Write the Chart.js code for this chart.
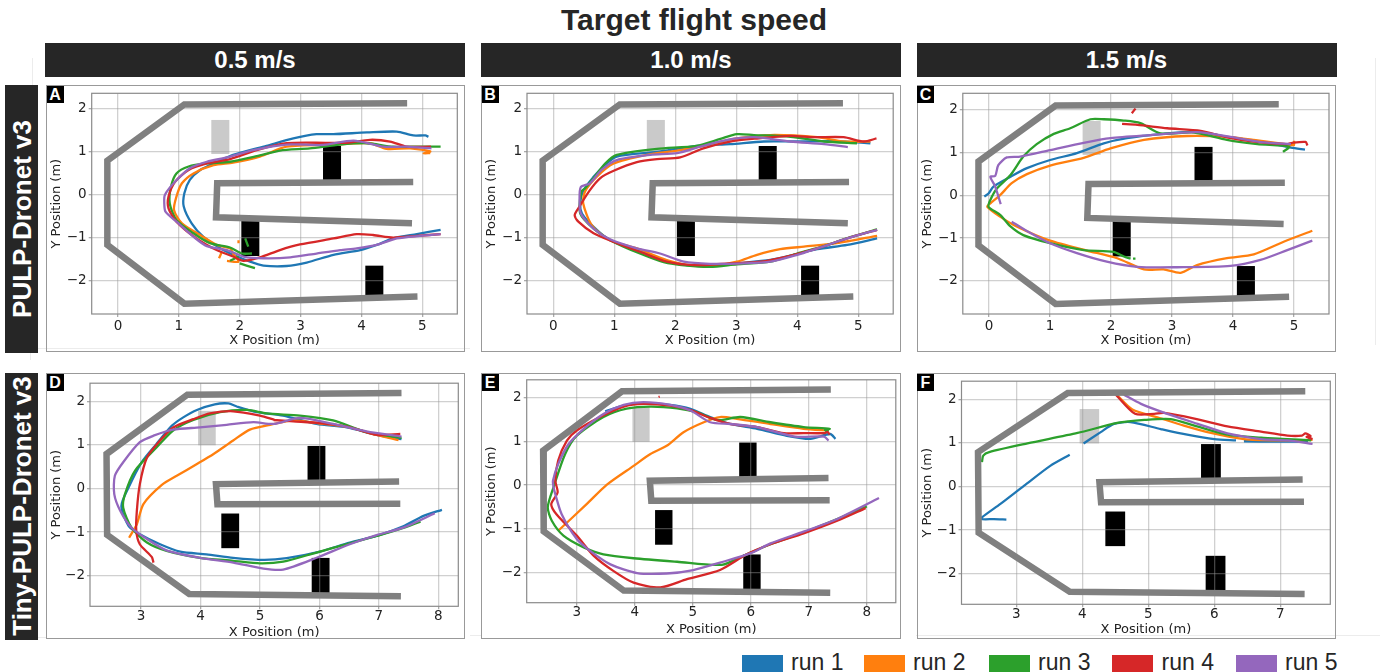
<!DOCTYPE html>
<html>
<head>
<meta charset="utf-8">
<title>Target flight speed</title>
<script src="https://cdn.jsdelivr.net/npm/chart.js@4"></script>
<style>
  html, body { margin: 0; padding: 0; background: #fff; overflow: hidden; }
  body { width: 1380px; height: 672px; position: relative; font-family: "Liberation Sans", sans-serif; }
  .abs { position: absolute; }
  #title { left: 394px; width: 600px; top: 3px; text-align: center; font: bold 30px "Liberation Sans"; color: #262626; }
  .head { top: 43px; height: 33.5px; width: 420px; background: #262626; color: #fff; text-align: center; font: bold 24px/33px "Liberation Sans"; }
  .side { left: 5px; width: 33px; background: #262626; }
  .side span { position: absolute; left: 50%; top: 50%; transform: translate(-50%, -50%) rotate(-90deg); white-space: nowrap; color: #fff; font: bold 26px "Liberation Sans"; }
  .panel { border: 1px solid #999; box-sizing: border-box; }
  .letter { width: 17px; height: 17px; background: #000; color: #fff; text-align: center; font: bold 16px/17px "Liberation Sans"; }
  .swatch { top: 655px; height: 17px; width: 41px; }
  .runtext { top: 649px; font: 23px/26px "Liberation Sans"; color: #262626; white-space: nowrap; }
  .faint { background: #ececec; }
</style>
</head>
<body>
<div class="abs" id="title">Target flight speed</div>
<div id="root"></div>
<script>
const speedLabels = ['0.5 m/s', '1.0 m/s', '1.5 m/s'];
const modelLabels = ['PULP-Dronet v3', 'Tiny-PULP-Dronet v3'];
const panelLetters = ['A', 'B', 'C', 'D', 'E', 'F'];
const runNames = ['run 1', 'run 2', 'run 3', 'run 4', 'run 5'];
const runColors = ['#1f77b4', '#ff7f0e', '#2ca02c', '#d62728', '#9467bd'];

const topTicksX = [0, 1, 2, 3, 4, 5];
const dTicksX = [3, 4, 5, 6, 7, 8];
const fTicksX = [3, 4, 5, 6, 7];
const ticksY = [-2, -1, 0, 1, 2];

// walls and obstacles, metres. top row and bottom row have different rooms
const topWallOuter = [[4.75, 2.12], [1.09, 2.09], [-0.175, 0.785], [-0.175, -1.17], [1.09, -2.535], [4.92, -2.37]];
const topWallInner = [[4.85, 0.29], [1.63, 0.26], [1.61, -0.53], [4.83, -0.67]];
const topGate = [[1.533, 0.94, 1.829, 1.73]];
const topBlocks = [[3.368, 0.3, 3.664, 1.126], [2.026, -1.428, 2.322, -0.6], [4.063, -2.4, 4.359, -1.652]];

const botWallOuter = [[7.38, 2.19], [3.78, 2.15], [2.42, 0.79], [2.43, -1.064], [3.81, -2.42], [7.37, -2.47]];
const botWallInner = [[7.34, 0.16], [4.26, 0.10], [4.285, -0.36], [7.36, -0.35]];
const botGate = [[3.96, 0.99, 4.256, 1.78]];
const botBlocks = [[5.80, 0.15, 6.10, 0.975], [4.35, -1.37, 4.65, -0.575], [5.87, -2.4, 6.17, -1.593]];

// panel A
const aRun1 = [[5.10,1.34],[5.05,1.37],[4.85,1.37],[4.58,1.46],[4.09,1.44],[3.54,1.40],[3.26,1.40],[2.88,1.30],[2.44,1.13],[1.89,0.92],[1.57,0.72],[1.35,0.57],[1.18,0.34],[1.09,0.03],[1.08,-0.28],[1.21,-0.67],[1.40,-0.98],[1.68,-1.25],[1.89,-1.40],[2.17,-1.56],[2.39,-1.65],[2.77,-1.66],[3.10,-1.58],[3.54,-1.40],[3.98,-1.29],[4.25,-1.17],[4.52,-1.02],[4.91,-0.92],[5.30,-0.82]];
const aRun2 = [[5.13,0.96],[5.02,0.96],[5.13,1.0],[4.80,1.07],[4.41,1.06],[4.14,1.19],[3.54,1.16],[2.77,1.11],[2.33,0.88],[1.89,0.74],[1.57,0.68],[1.24,0.49],[1.05,0.26],[0.96,-0.05],[0.92,-0.36],[1.05,-0.67],[1.35,-0.94],[1.62,-1.17],[1.84,-1.25],[1.89,-1.37],[1.98,-1.56],[1.79,-1.54],null,[1.66,-1.48],[1.70,-1.35],null,[1.98,-1.13],[1.98,-1.06]];
const aRun3 = [[5.30,1.11],[4.96,1.11],[4.52,1.11],[4.09,1.19],[3.65,1.16],[3.15,1.07],[2.66,1.02],[2.28,0.89],[1.84,0.76],[1.46,0.72],[1.16,0.65],[0.96,0.49],[0.87,0.18],[0.85,-0.21],[0.96,-0.59],[1.24,-0.90],[1.51,-1.13],[1.84,-1.23],[2.04,-1.37],[2.20,-1.37],null,[1.84,-1.54],[1.98,-1.44],null,[2.00,-1.60],[2.25,-1.71],null,[2.09,-1.02],[2.14,-1.21]];
const aRun4 = [[5.14,1.11],[4.74,1.11],[4.47,1.23],[4.14,1.27],[3.76,1.20],[3.43,1.20],[2.77,1.19],[2.28,1.03],[1.84,0.82],[1.46,0.72],[1.16,0.57],[0.94,0.30],[0.83,-0.05],[0.83,-0.32],[0.96,-0.63],[1.29,-1.02],[1.62,-1.29],[1.89,-1.44],[2.06,-1.54],[2.33,-1.46],[2.66,-1.29],[2.99,-1.16],[3.54,-1.02],[3.92,-0.92],[4.19,-0.94],[4.52,-1.0],[4.91,-0.96],[5.30,-0.92]];
const aRun5 = [[5.15,1.07],[4.74,1.11],[4.36,1.11],[3.87,1.25],[3.37,1.15],[2.77,1.16],[2.22,1.03],[1.79,0.86],[1.46,0.76],[1.18,0.61],[0.94,0.30],[0.77,-0.01],[0.76,-0.20],[0.78,-0.40],[0.96,-0.63],[1.24,-0.98],[1.46,-1.20],[1.79,-1.29],[2.06,-1.44],[2.39,-1.48],[2.83,-1.46],[3.26,-1.37],[3.65,-1.29],[3.92,-1.25],[4.25,-1.17],[4.58,-1.02],[4.96,-0.96],[5.30,-0.92]];

// panel B
const bRun1 = [[5.20,1.19],[4.65,1.24],[4.00,1.23],[3.45,1.23],[2.90,1.17],[2.35,1.13],[1.70,0.99],[1.04,0.88],[0.82,0.65],[0.66,0.41],[0.49,0.09],[0.44,-0.21],[0.47,-0.44],[0.66,-0.75],[0.93,-1.06],[1.37,-1.29],[1.81,-1.52],[2.19,-1.64],[2.57,-1.66],[3.01,-1.60],[3.56,-1.52],[3.94,-1.40],[4.33,-1.27],[4.82,-1.17],[5.31,-1.02]];
const bRun2 = [[5.20,1.23],[4.76,1.23],[4.33,1.33],[3.56,1.38],[3.01,1.30],[2.46,1.13],[2.03,1.02],[1.53,0.92],[0.99,0.72],[0.71,0.41],[0.52,0.07],[0.49,-0.21],[0.63,-0.71],[0.93,-1.06],[1.37,-1.25],[1.86,-1.52],[2.25,-1.64],[2.68,-1.64],[3.01,-1.56],[3.34,-1.40],[3.72,-1.27],[4.11,-1.21],[4.65,-1.13],[5.31,-0.96]];
const bRun3 = [[4.98,1.19],[4.44,1.23],[3.89,1.34],[3.29,1.38],[3.01,1.40],[2.74,1.29],[2.35,1.13],[1.70,1.06],[1.04,0.92],[0.85,0.72],[0.66,0.38],[0.52,0.14],[0.46,0.07],[0.44,-0.44],[0.66,-0.79],[0.99,-1.10],[1.42,-1.37],[1.81,-1.57],[2.19,-1.65],[2.57,-1.68],[3.01,-1.62],[3.56,-1.56],[4.00,-1.37],[4.44,-1.20],[4.87,-0.99],[5.31,-0.81]];
const bRun4 = [[5.30,1.30],[5.09,1.23],[4.76,1.33],[4.27,1.33],[3.89,1.36],[3.34,1.30],[2.90,1.23],[2.46,1.07],[2.08,0.86],[1.70,0.82],[1.37,0.75],[0.99,0.55],[0.77,0.38],[0.60,0.10],[0.41,-0.32],[0.35,-0.48],[0.41,-0.63],[0.66,-0.90],[0.99,-1.10],[1.42,-1.33],[1.86,-1.56],[2.30,-1.64],[2.90,-1.60],[3.40,-1.56],[3.83,-1.44],[4.33,-1.25],[4.82,-1.02],[5.31,-0.82]];
const bRun5 = [[4.83,1.10],[4.44,1.17],[3.89,1.23],[3.29,1.33],[2.85,1.27],[2.41,1.11],[2.03,0.96],[1.59,0.92],[1.04,0.80],[0.79,0.57],[0.60,0.26],[0.45,0.17],[0.43,-0.13],[0.45,-0.44],[0.66,-0.79],[0.93,-1.04],[1.37,-1.25],[1.75,-1.37],[2.14,-1.56],[2.57,-1.61],[3.12,-1.60],[3.56,-1.56],[4.00,-1.40],[4.33,-1.25],[4.82,-1.02],[5.31,-0.82]];

// panel C
const cRun1 = [[5.18,1.06],[4.95,1.11],[4.45,1.25],[3.90,1.36],[3.41,1.48],[2.86,1.43],[2.26,1.33],[1.88,1.21],[1.44,0.98],[1.0,0.82],[0.62,0.63],[0.35,0.43],[0.07,0.20],[-0.01,0.04],[-0.08,-0.03]];
const cRun2 = [[5.0,1.27],[5.0,1.17],[4.95,1.17],[4.34,1.29],[3.90,1.36],[3.25,1.38],[2.54,1.29],[1.99,1.09],[1.55,0.87],[1.0,0.69],[0.62,0.49],[0.37,0.28],[0.18,0.0],[0.02,-0.19],[-0.03,-0.27],[0.18,-0.50],[0.45,-0.73],[1.0,-1.06],[1.60,-1.29],[2.10,-1.47],[2.54,-1.73],[2.86,-1.73],[3.14,-1.81],[3.41,-1.63],[3.90,-1.47],[4.34,-1.38],[4.84,-1.08],[5.30,-0.83]];
const cRun3 = [[4.82,1.01],[4.92,1.13],[4.40,1.19],[3.90,1.29],[3.36,1.46],[2.81,1.44],[2.48,1.68],[2.21,1.74],[1.88,1.77],[1.66,1.77],[1.33,1.56],[1.06,1.43],[0.78,1.19],[0.56,0.90],[0.35,0.47],[0.13,0.16],[0.02,-0.11],[-0.01,-0.27],[0.18,-0.46],[0.35,-0.73],[0.56,-0.93],[1.0,-1.12],[1.55,-1.28],[2.04,-1.32],[2.21,-1.43],[2.32,-1.48],null,[2.36,-1.48],[2.40,-1.48]];
const cRun4 = [[2.34,1.91],[2.40,2.02],null,[2.18,1.66],[2.43,1.64],[2.92,1.56],[3.47,1.50],[3.90,1.35],[4.34,1.25],[4.89,1.19],[4.97,1.22],[5.19,1.24],[5.22,1.16]];
const cRun5 = [[0.19,-0.21],[0.10,0.20],[0.02,0.43],[0.10,0.45],[0.15,0.70],[0.29,0.88],[0.51,0.90],[1.0,1.05],[1.55,1.22],[1.99,1.33],[2.65,1.40],[3.41,1.47],[3.96,1.36],[4.51,1.23],[4.95,1.19],null,[0.37,-0.62],[0.59,-0.81],[1.0,-1.12],[1.44,-1.35],[1.93,-1.55],[2.43,-1.67],[3.08,-1.68],[3.96,-1.65],[4.45,-1.51],[4.89,-1.28],[5.30,-1.06]];

// panel D
const dRun1 = [[7.38,1.13],[6.96,1.23],[6.46,1.40],[5.95,1.48],[5.39,1.67],[4.95,1.75],[4.61,1.88],[4.47,1.95],[4.24,1.93],[3.94,1.80],[3.71,1.63],[3.52,1.44],[3.26,1.02],[3.01,0.60],[2.79,0.02],[2.67,-0.40],[2.79,-0.86],[2.98,-1.05],[3.32,-1.28],[3.66,-1.45],[4.10,-1.51],[4.55,-1.59],[5.06,-1.64],[5.45,-1.60],[6.01,-1.45],[6.51,-1.24],[6.96,-1.09],[7.41,-0.87],[7.75,-0.63],[8.06,-0.49]];
const dRun2 = [[7.33,1.11],[6.96,1.23],[6.51,1.40],[6.01,1.49],[5.56,1.56],[5.17,1.46],[4.83,1.35],[4.55,1.10],[4.22,0.79],[3.94,0.56],[3.60,0.29],[3.35,0.08],[3.04,-0.36],[2.93,-0.82],[2.80,-1.13]];
const dRun3 = [[7.38,1.16],[6.79,1.29],[6.23,1.56],[5.67,1.67],[5.11,1.72],[4.78,1.80],[4.33,1.75],[3.88,1.57],[3.54,1.33],[3.26,0.94],[2.90,0.41],[2.73,-0.13],[2.70,-0.44],[2.84,-0.90],[3.10,-1.24],[3.43,-1.43],[3.99,-1.59],[4.55,-1.66],[5.0,-1.72],[5.39,-1.68],[5.95,-1.47],[6.51,-1.26],[6.96,-1.09],[7.36,-0.93],[7.70,-0.76]];
const dRun4 = [[7.36,1.25],[6.96,1.23],[6.46,1.42],[6.01,1.50],[5.56,1.54],[5.23,1.57],null,[5.25,1.57],[5.0,1.67],[4.55,1.77],[4.16,1.72],[3.88,1.59],[3.54,1.40],[3.32,1.10],[3.10,0.71],[2.98,0.10],[2.93,-0.51],[2.92,-0.97],[2.98,-1.28],[3.18,-1.57],[3.21,-1.70]];
const dRun5 = [[7.38,1.19],[6.79,1.31],[6.23,1.48],[5.67,1.62],[5.23,1.48],[4.89,1.52],[4.44,1.46],[3.99,1.40],[3.54,1.35],[3.21,1.21],[2.98,1.06],[2.70,0.60],[2.56,0.29],[2.55,-0.13],[2.65,-0.51],[2.84,-0.90],[3.10,-1.16],[3.43,-1.42],[3.99,-1.59],[4.55,-1.70],[5.06,-1.84],[5.39,-1.86],[5.95,-1.59],[6.51,-1.28],[6.96,-1.07],[7.41,-0.90],[7.94,-0.57]];

// panel E
const eRun1 = [[7.46,1.06],[7.37,1.17],[7.03,1.06],[6.62,1.13],[6.11,1.29],[5.65,1.40],[5.30,1.56],[4.96,1.75],[4.61,1.84],[4.15,1.88],[3.81,1.82],[3.49,1.69]];
const eRun2 = [[7.34,1.25],[6.91,1.29],[6.34,1.40],[5.76,1.52],[5.47,1.56],[5.19,1.44],[4.84,1.21],[4.55,0.90],[4.27,0.71],[3.98,0.44],[3.52,0.01],[3.17,-0.44],[2.68,-1.05]];
const eRun3 = [[7.34,1.22],[7.28,1.26],[7.36,1.29],[6.91,1.33],[6.34,1.44],[5.82,1.56],[5.42,1.49],[5.07,1.67],[4.73,1.76],[4.27,1.80],[3.86,1.75],[3.46,1.56],[3.0,1.13],[2.80,0.71],[2.60,-0.05],[2.50,-0.51],[2.57,-0.82],[2.77,-1.16],[3.12,-1.43],[3.46,-1.59],[3.98,-1.68],[4.73,-1.76],[5.50,-1.83],[5.93,-1.59],[6.34,-1.36],[6.91,-1.09],[7.49,-0.78],[8.0,-0.49]];
const eRun4 = [[4.41,2.02],[4.43,2.03],null,[7.36,1.16],[7.32,1.22],[7.28,1.19],[6.91,1.19],[6.57,1.19],[6.11,1.33],[5.65,1.40],[5.30,1.54],[4.96,1.72],[4.61,1.82],[4.15,1.86],[3.81,1.80],[3.40,1.56],[3.0,1.25],[2.83,1.02],[2.68,0.56],[2.63,0.10],[2.67,-0.17],[2.56,-0.44],[2.65,-0.67],[3.0,-1.16],[3.29,-1.62],[3.63,-1.97],[3.98,-2.24],[4.44,-2.35],[4.90,-2.16],[5.47,-1.95],[5.93,-1.59],[6.34,-1.36],[6.91,-1.11],[7.49,-0.82],[7.98,-0.53]];
const eRun5 = [[7.34,1.02],[7.26,1.11],[6.77,1.11],[6.11,1.33],[5.65,1.40],[5.30,1.44],[4.96,1.71],[4.61,1.84],[4.15,1.90],[3.81,1.84],[3.46,1.63],[3.12,1.29],[2.86,0.94],[2.68,0.48],[2.59,0.10],[2.60,-0.05],[2.63,-0.21],[2.74,-0.67],[3.0,-1.24],[3.23,-1.51],[3.58,-1.82],[4.04,-2.02],[4.55,-2.03],[5.01,-1.95],[5.47,-1.78],[5.99,-1.57],[6.34,-1.34],[6.91,-1.07],[7.49,-0.78],[8.21,-0.30]];

// panel F
const fRun1 = [[2.85,-0.76],[2.66,-0.75],[2.48,-0.75],[2.48,-0.71],[2.76,-0.40],[3.12,0.02],[3.52,0.48],[3.81,0.73],null,[4.02,0.99],[4.28,1.25],[4.48,1.44],[4.73,1.48],[5.19,1.32],[5.59,1.19],[6.0,1.09],[6.33,1.06],null,[6.45,1.04],[6.96,1.03],[7.42,1.03]];
const fRun2 = [[4.52,2.11],[4.76,1.77],[5.14,1.59],[5.54,1.40],[5.95,1.23],[6.45,1.09],[6.96,1.06],[7.49,1.07]];
const fRun3 = [[2.48,0.56],[2.50,0.71],[2.59,0.79],[3.17,0.99],[3.93,1.23],[4.53,1.46],[4.94,1.53],[5.34,1.55],[5.70,1.40],[6.20,1.19],[6.71,1.12],[7.11,1.09],[7.47,1.06]];
const fRun4 = [[4.51,2.11],[4.80,1.67],[5.09,1.67],[5.24,1.69],[5.70,1.56],[6.20,1.38],[6.71,1.26],[7.11,1.17],[7.33,1.17],[7.38,1.22],[7.46,1.16],[7.40,1.14],[7.49,1.09]];
const fRun5 = [[4.63,2.11],[4.89,1.90],[5.29,1.67],[5.75,1.44],[6.20,1.22],[6.71,1.09],[7.11,1.06],[7.49,0.98]];

// page layout: box is the outer frame, plot the axes rectangle, range the axis limits
const panels = [
  { box: [46, 85, 465, 352], plot: [91.7, 93.3, 457.3, 314], xr: [-0.432, 5.574], yr: [-2.774, 2.349], ticksX: topTicksX, room: 'top', tickPad: 1, titlePad: 4, runs: [aRun1, aRun2, aRun3, aRun4, aRun5] },
  { box: [481, 85, 900.5, 352], plot: [527, 93.3, 892.7, 314], xr: [-0.432, 5.574], yr: [-2.774, 2.349], ticksX: topTicksX, room: 'top', tickPad: 1, titlePad: 4, runs: [bRun1, bRun2, bRun3, bRun4, bRun5] },
  { box: [916.5, 85, 1336, 352], plot: [962.3, 93.3, 1328, 314], xr: [-0.432, 5.574], yr: [-2.77, 2.375], ticksX: topTicksX, room: 'top', tickPad: 1, titlePad: 4, runs: [cRun1, cRun2, cRun3, cRun4, cRun5] },
  { box: [46, 372.5, 465, 639], plot: [90, 382.7, 458.3, 605.3], xr: [2.142, 8.335], yr: [-2.703, 2.414], ticksX: dTicksX, room: 'bot', tickPad: -1, titlePad: 0, runs: [dRun1, dRun2, dRun3, dRun4, dRun5] },
  { box: [481, 372.5, 900.5, 639], plot: [526.7, 379.3, 895.3, 601.7], xr: [2.137, 8.5], yr: [-2.70, 2.414], ticksX: dTicksX, room: 'bot', tickPad: -1, titlePad: 3, runs: [eRun1, eRun2, eRun3, eRun4, eRun5] },
  { box: [916.5, 372.5, 1336, 639], plot: [961, 380.7, 1329.3, 603.3], xr: [2.17, 7.759], yr: [-2.707, 2.42], ticksX: fTicksX, room: 'bot', tickPad: -1, titlePad: 2.5, runs: [fRun1, fRun2, fRun3, fRun4, fRun5] }
];
const rooms = {
  top: { walls: [topWallOuter, topWallInner], gates: topGate, blocks: topBlocks },
  bot: { walls: [botWallOuter, botWallInner], gates: botGate, blocks: botBlocks }
};
const headLefts = [45, 481, 916.5];
const sideBoxes = [[85, 267.5], [372.5, 267]];
const legendSwatchLefts = [742.3, 864.3, 989.3, 1112.3, 1236];
const legendTextLefts = [791, 913, 1038, 1161.5, 1285];
// the very light scan lines behind the figure: left, top, width, height
const faintLines = [[32, 58, 1, 290], [30, 350, 1, 10], [38, 348, 432, 1], [38, 637, 8, 1], [470, 635, 12, 1], [916, 635, 464, 1], [1375, 58, 1, 287]];

var root = document.getElementById('root');
function addDiv(cls, css, text) {
  var d = document.createElement('div');
  d.className = 'abs ' + cls;
  Object.assign(d.style, css);
  if (text) d.textContent = text;
  root.appendChild(d);
  return d;
}

faintLines.forEach(function (l) {
  addDiv('faint', { left: l[0] + 'px', top: l[1] + 'px', width: l[2] + 'px', height: l[3] + 'px' });
});
speedLabels.forEach(function (s, i) { addDiv('head', { left: headLefts[i] + 'px' }, s); });
modelLabels.forEach(function (m, i) {
  var d = addDiv('side', { top: sideBoxes[i][0] + 'px', height: sideBoxes[i][1] + 'px' });
  var sp = document.createElement('span');
  sp.textContent = m;
  d.appendChild(sp);
});
runNames.forEach(function (r, i) {
  addDiv('swatch', { left: legendSwatchLefts[i] + 'px', background: runColors[i] });
  addDiv('runtext', { left: legendTextLefts[i] + 'px' }, r);
});

function toPoints(list) {
  return list.map(function (p) { return p ? { x: p[0], y: p[1] } : { x: NaN, y: NaN }; });
}

// gates and blocks go under the grid, frame goes over it
var roomPlugin = {
  id: 'roomPlugin',
  beforeDraw: function (chart, args, opts) {
    var c = chart.ctx, xs = chart.scales.x, ys = chart.scales.y;
    function rects(list, color) {
      c.fillStyle = color;
      list.forEach(function (r) {
        var x0 = xs.getPixelForValue(r[0]), x1 = xs.getPixelForValue(r[2]);
        var y0 = ys.getPixelForValue(r[3]), y1 = ys.getPixelForValue(r[1]);
        c.fillRect(x0, y0, x1 - x0, y1 - y0);
      });
    }
    rects(opts.gates, '#cacaca');
    rects(opts.blocks, '#000');
  },
  afterDatasetsDraw: function (chart) {
    var a = chart.chartArea, c = chart.ctx;
    c.save();
    c.strokeStyle = '#8a8a8a';
    c.lineWidth = 1.2;
    c.strokeRect(a.left, a.top, a.right - a.left, a.bottom - a.top);
    c.restore();
  }
};

panels.forEach(function (p, idx) {
  var w = p.box[2] - p.box[0], h = p.box[3] - p.box[1];
  addDiv('panel', { left: p.box[0] + 'px', top: p.box[1] + 'px', width: w + 'px', height: h + 'px' });
  var cv = document.createElement('canvas');
  cv.className = 'abs';
  cv.width = Math.round(w);
  cv.height = Math.round(h);
  cv.style.left = p.box[0] + 'px';
  cv.style.top = p.box[1] + 'px';
  root.appendChild(cv);
  addDiv('letter', { left: (p.box[0] + 0.5) + 'px', top: (p.box[1] + 1) + 'px' }, panelLetters[idx]);

  var room = rooms[p.room];
  var datasets = p.runs.map(function (run, i) {
    return { label: runNames[i], data: toPoints(run), borderColor: runColors[i], borderWidth: 2.3, tension: 0.25, order: 5 - i, showLine: true, pointRadius: 0, spanGaps: false };
  });
  room.walls.forEach(function (wall) {
    datasets.push({ label: 'wall', data: toPoints(wall), borderColor: '#808080', borderWidth: 6.5, tension: 0, order: 0, showLine: true, pointRadius: 0, borderJoinStyle: 'miter', borderCapStyle: 'butt' });
  });

  new Chart(cv, {
    type: 'scatter',
    data: { datasets: datasets },
    plugins: [roomPlugin],
    options: {
      responsive: false,
      animation: false,
      devicePixelRatio: 1,
      layout: { padding: { top: p.plot[1] - p.box[1], right: p.box[2] - p.plot[2], left: 0, bottom: 0 } },
      plugins: {
        legend: { display: false },
        tooltip: { enabled: false },
        roomPlugin: { gates: room.gates, blocks: room.blocks }
      },
      scales: {
        x: {
          type: 'linear',
          min: p.xr[0], max: p.xr[1],
          afterBuildTicks: function (s) { s.ticks = p.ticksX.map(function (v) { return { value: v }; }); },
          afterFit: function (s) { s.height = p.box[3] - p.plot[3]; s.paddingLeft = 0; s.paddingRight = 0; },
          grid: { color: 'rgba(150,150,150,0.45)', lineWidth: 1.3, tickLength: 3, tickColor: '#aaa', drawOnChartArea: true },
          border: { display: false },
          ticks: { color: '#222', font: { family: 'DejaVu Sans', size: 13.5 }, padding: p.tickPad, maxRotation: 0, autoSkip: false, callback: function (v) { return String(v); } },
          title: { display: true, text: 'X Position (m)', color: '#222', font: { family: 'DejaVu Sans', size: 13 }, padding: { top: 0, bottom: p.titlePad } }
        },
        y: {
          type: 'linear',
          min: p.yr[0], max: p.yr[1],
          afterBuildTicks: function (s) { s.ticks = ticksY.map(function (v) { return { value: v }; }); },
          afterFit: function (s) { s.width = p.plot[0] - p.box[0]; s.paddingTop = 0; s.paddingBottom = 0; },
          grid: { color: 'rgba(150,150,150,0.45)', lineWidth: 1.3, tickLength: 3, tickColor: '#aaa' },
          border: { display: false },
          ticks: { color: '#222', font: { family: 'DejaVu Sans', size: 13.5 }, padding: 2, autoSkip: false, callback: function (v) { return v < 0 ? '\u2212' + Math.abs(v) : String(v); } },
          title: { display: true, text: 'Y Position (m)', color: '#222', font: { family: 'DejaVu Sans', size: 13 }, padding: { top: 3, bottom: 0 } }
        }
      }
    }
  });
});
</script>
</body>
</html>
